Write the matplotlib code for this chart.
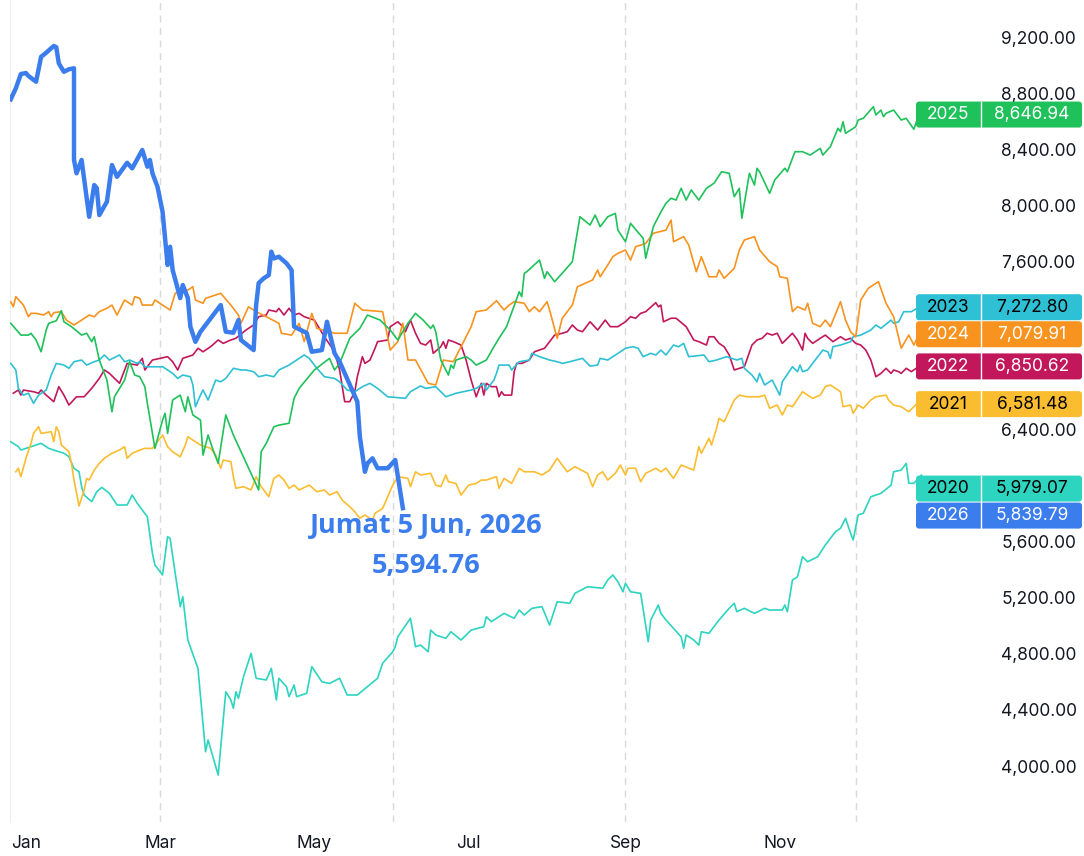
import matplotlib
matplotlib.use("Agg")
import matplotlib.pyplot as plt
from matplotlib.patches import FancyBboxPatch
from matplotlib.transforms import IdentityTransform
from matplotlib.ticker import FuncFormatter

plt.rcParams['font.family'] = ['Inter', 'DejaVu Sans']

# IHSG per tahun: hari ke-n dalam tahun dan nilai penutupan
days20 = [0,3,4,6,8,12,15,19,21,23,25,27,28,29,32,34,36,39,42,46,48,50,54,56,57,60,62,63,65,67,
          68,70,74,77,78,82,85,87,88,89,90,92,95,97,101,103,105,106,109,110,112,113,117,119,123,126,130,133,137,141,
          145,147,151,152,153,158,160,162,165,166,168,172,174,178,182,187,188,190,195,199,201,203,206,210,213,216,221,223,228,234,
          236,238,240,242,243,245,249,252,253,256,257,259,265,266,267,270,272,273,276,278,280,284,286,287,290,294,298,300,305,306,
          307,309,311,313,315,319,322,326,328,330,332,333,335,337,340,344,348,349,352,354,355,357,360,361]
vals20 = [6313,6278,6254,6266,6278,6302,6266,6242,6231,6206,6124,6099,5993,5933,5886,5957,5988,5945,5862,5862,
          5933,5874,5778,5517,5434,5363,5636,5624,5375,5137,5208,4899,4697,4102,4186,3936,4530,4471,4412,4530,
          4483,4637,4804,4626,4614,4697,4471,4626,4566,4495,4578,4495,4519,4709,4601,4589,4626,4507,4507,4566,
          4626,4733,4815,4851,4922,5054,4851,4863,4815,4970,4935,4911,4958,4899,4970,4994,5065,5030,5089,5054,
          5113,5077,5125,5137,5006,5172,5161,5232,5279,5268,5327,5363,5315,5243,5303,5243,5232,4887,5042,5149,
          5089,5042,4922,4840,4935,4899,4863,4958,4947,4994,5042,5125,5161,5101,5125,5089,5125,5113,5113,5149,
          5101,5327,5350,5493,5457,5493,5577,5671,5696,5767,5660,5612,5791,5803,5921,5945,6004,6099,6111,6159,
          6017,6017,6076,5979.07]

days21 = [2,3,4,6,8,9,11,12,16,17,18,19,20,23,24,25,27,29,30,31,33,35,37,40,43,45,46,48,51,53,
          56,60,62,64,67,69,70,73,75,79,81,83,84,87,88,89,92,95,97,99,102,104,106,108,110,112,114,118,121,124,
          126,129,131,134,136,138,140,143,144,147,149,151,153,157,158,160,162,166,168,170,172,173,176,178,181,184,186,188,192,193,
          195,198,201,203,207,210,213,216,220,223,228,230,232,234,236,239,241,243,244,247,249,251,255,257,259,262,265,270,272,273,
          276,277,279,280,282,286,288,291,296,298,300,303,305,307,309,313,315,317,320,322,324,328,329,332,333,335,337,340,342,346,
          347,349,352,355,358]
vals21 = [6099,6124,6064,6195,6302,6373,6420,6373,6385,6313,6420,6385,6290,6242,6159,6040,5855,5969,6052,6040,
          6111,6159,6195,6231,6254,6278,6195,6231,6254,6266,6266,6361,6278,6242,6206,6290,6349,6313,6290,6266,
          6218,6124,6183,6171,6064,5981,5993,5969,6064,5993,5921,6052,6076,6040,5981,6004,5969,6004,5957,5969,
          5933,5957,5897,5850,5814,5767,5791,5755,5803,5838,5921,6004,6064,6052,5993,6099,6076,6088,6004,5993,
          6076,6028,6016,5933,6004,6016,6040,6040,6064,5981,6052,6016,6124,6099,6099,6076,6111,6195,6099,6135,
          6088,5993,6076,6099,6040,6088,6147,6076,6124,6124,6028,6088,6124,6099,6124,6052,6147,6111,6278,6231,
          6338,6290,6409,6480,6456,6611,6646,6634,6634,6646,6552,6575,6504,6575,6563,6670,6646,6623,6646,6706,
          6718,6670,6563,6575,6516,6575,6552,6611,6634,6646,6611,6575,6563,6527,6581.48]

days22 = [1,3,4,5,9,11,12,14,17,19,21,23,26,29,32,35,37,39,41,43,46,50,52,53,56,59,62,64,66,68,
          72,74,76,79,82,84,87,89,93,96,98,101,102,105,106,108,110,112,114,116,120,124,128,130,132,134,136,137,139,140,
          142,144,145,149,150,153,155,156,158,160,162,164,166,167,170,171,172,173,175,178,180,182,184,186,187,188,190,192,193,194,
          195,198,199,200,202,205,207,211,213,215,218,220,222,224,226,229,232,235,237,240,243,245,247,249,251,255,256,257,258,261,
          263,267,270,272,275,276,278,280,282,284,286,290,293,295,297,299,301,303,305,307,309,311,313,314,315,317,320,322,325,328,
          330,332,334,336,338,340,342,343,344,346,348,349,351,352,354,356,359]
vals22 = [6659,6682,6646,6682,6670,6659,6682,6646,6599,6706,6646,6575,6634,6634,6694,6765,6825,6801,6765,6730,
          6872,6860,6908,6825,6896,6908,6920,6884,6825,6908,6932,6980,6955,6991,7039,7015,7039,7051,7110,7146,
          7205,7217,7253,7241,7265,7217,7265,7217,7229,7205,7181,7062,6955,6825,6599,6599,6670,6777,6920,6872,
          6896,6980,7027,7039,7134,7169,7134,7098,7181,7087,7015,7003,7039,6944,6991,7027,6980,7039,7027,7003,
          6896,6753,6634,6730,6646,6730,6706,6706,6634,6670,6646,6646,6813,6872,6872,6896,6955,6980,7027,7074,
          7087,7098,7146,7110,7098,7169,7110,7181,7134,7134,7169,7205,7194,7229,7241,7305,7276,7288,7169,7194,
          7194,7134,7039,7027,7003,7062,7062,7015,6991,6932,6825,6848,7003,7039,7051,7087,7074,7087,7015,7051,
          7087,7039,6967,7087,7051,7015,7051,7074,7027,7062,7039,7051,7015,7003,6967,6896,6777,6789,6801,6837,
          6801,6825,6813,6801,6837,6813,6850.62]

days23 = [0,2,3,5,7,9,11,14,16,18,21,23,25,28,30,33,35,37,39,43,45,47,50,51,53,56,60,62,64,66,
          68,71,72,73,75,76,78,81,83,85,88,91,93,96,98,101,104,106,110,116,118,121,124,128,130,133,136,139,142,145,
          149,156,158,162,164,168,172,176,182,184,187,188,191,192,193,197,198,201,205,206,209,211,213,216,218,221,226,229,232,233,
          236,238,241,243,246,248,250,253,255,257,259,262,264,266,268,274,276,279,283,287,289,290,293,295,296,298,301,304,305,309,
          311,312,313,315,319,321,323,324,325,328,332,333,336,340,342,344,348,349,351,353,356,359]
vals23 = [6872,6825,6694,6646,6659,6587,6646,6682,6789,6872,6860,6837,6884,6896,6860,6884,6896,6932,6896,6932,
          6884,6896,6872,6884,6848,6848,6848,6825,6801,6765,6789,6777,6718,6563,6646,6682,6611,6753,6741,6765,
          6837,6825,6825,6813,6777,6789,6777,6825,6860,6932,6908,6837,6777,6765,6741,6682,6670,6706,6730,6694,
          6634,6623,6670,6711,6694,6706,6634,6659,6682,6694,6730,6682,6753,6801,6860,6860,6825,6884,6896,6944,
          6920,6908,6896,6884,6872,6884,6908,6853,6860,6908,6896,6920,6955,6980,6991,6980,6920,6944,6932,6967,
          6932,7003,6991,7015,6920,6932,6884,6896,6920,6896,6908,6837,6789,6741,6801,6718,6753,6646,6741,6848,
          6813,6860,6813,6825,6920,6967,6955,6908,6991,7003,7027,7062,7074,7110,7146,7122,7181,7158,7169,7241,
          7241,7272.80]

days24 = [0,1,2,5,7,8,10,13,15,16,17,20,22,25,27,31,33,35,38,40,42,45,48,49,51,52,56,57,60,63,
          65,68,70,72,73,76,77,83,87,90,91,94,97,101,106,107,111,114,116,119,121,128,133,136,139,147,150,153,155,157,
          160,165,168,171,175,178,182,184,188,192,195,197,199,203,205,207,209,212,213,216,218,220,222,224,230,232,233,236,238,240,
          243,245,247,251,254,259,261,262,266,268,271,273,276,279,280,282,286,288,290,294,296,300,303,304,307,309,311,314,315,317,
          320,322,324,328,330,332,334,336,339,343,346,349,352,355,357,359]
vals24 = [7312,7276,7348,7288,7205,7229,7229,7217,7241,7205,7234,7241,7181,7146,7169,7217,7205,7241,7265,7288,
          7217,7324,7288,7348,7336,7288,7288,7324,7288,7253,7372,7395,7395,7419,7324,7301,7336,7372,7288,7217,
          7158,7276,7241,7205,7158,7087,7074,7158,7027,7229,7122,7087,7087,7301,7253,7241,6967,7027,7158,6896,
          6896,6730,6718,6896,6884,6991,7134,7241,7253,7319,7253,7288,7312,7301,7241,7276,7241,7312,7253,7051,
          7194,7241,7288,7419,7467,7538,7490,7574,7633,7657,7681,7609,7704,7728,7800,7823,7895,7740,7776,7716,
          7526,7633,7490,7490,7538,7479,7550,7681,7752,7776,7681,7597,7562,7490,7479,7241,7276,7253,7301,7158,
          7134,7181,7134,7312,7181,7098,7062,7324,7408,7455,7301,7205,6980,7074,7003,7079.91]

days25 = [0,4,7,8,10,12,14,15,18,20,21,24,28,30,32,33,35,38,40,41,45,47,49,51,53,54,57,60,61,62,
          64,67,69,70,72,75,76,78,80,82,85,88,98,99,101,104,106,110,112,114,120,126,128,130,134,138,141,146,150,153,
          157,160,163,166,167,168,170,173,174,175,176,180,182,184,188,191,193,196,201,202,203,204,209,211,212,215,218,222,225,229,
          231,233,236,239,240,243,245,250,251,254,257,259,261,263,265,267,269,272,275,278,281,284,286,288,289,292,294,295,296,300,
          302,306,307,310,313,316,320,321,324,327,328,329,330,334,335,337,341,342,344,345,346,349,352,354,357,359]
vals25 = [7158,7074,7074,7087,7039,6955,7110,7158,7176,7248,7169,7134,7074,7087,7027,7062,6896,6753,6527,6634,
          6753,6884,6789,6777,6706,6587,6266,6468,6516,6373,6611,6646,6527,6634,6504,6468,6218,6361,6254,6159,
          6504,6361,5969,6242,6302,6420,6432,6445,6623,6694,6825,6908,6825,6872,7051,7122,7217,7181,7110,7039,
          7158,7229,7181,7122,7146,7098,6896,6789,6860,6837,6896,6920,6896,6860,6896,6991,7051,7134,7383,7348,
          7515,7526,7609,7479,7526,7455,7515,7597,7918,7859,7930,7847,7918,7942,7823,7740,7871,7764,7622,7847,
          7952,8014,8050,8037,8121,8037,8109,8037,8121,8157,8239,8228,8061,8121,7907,8228,8144,8264,8239,8085,
          8180,8264,8239,8382,8382,8358,8406,8358,8418,8549,8525,8596,8513,8560,8608,8620,8703,8644,8679,8632,
          8656,8679,8608,8620,8542,8646.94]

days26 = [0,2,4,6,7,10,12,14,17,18,19,21,23,25,25,26,28,31,33,34,35,38,40,42,46,48,52,54,55,56,
          58,60,62,63,64,67,68,70,71,73,75,83,85,88,90,91,96,97,98,100,102,103,104,106,109,111,112,117,119,123,
          125,128,130,137,138,140,141,143,145,149,152,155]
vals26 = [8756,8834,8936,8943,8922,8881,9059,9088,9136,9127,9012,8952,8970,8977,8323,8228,8323,7918,8144,8123,
          7930,8025,8287,8203,8303,8263,8394,8275,8323,8228,8132,7954,7574,7704,7538,7338,7431,7338,7134,7026,
          7098,7288,7098,7091,7181,7039,6967,7288,7445,7479,7502,7669,7621,7633,7586,7538,7134,7089,6955,6967,
          7169,6944,6884,6599,6349,6099,6159,6195,6124,6124,6183,5839.79]

hover_date = "Jumat 5 Jun, 2026"
hover_value = 5594.76

month_names = ["Jan", "Mar", "May", "Jul", "Sep", "Nov"]
month_days = [0, 59, 120, 181, 243, 304]
quarter_lines = [59, 151, 243, 334]
yticks = list(range(4000, 9201, 400))

series = [
    ("2020", days20, vals20, "#2dd4bf", "black"),
    ("2021", days21, vals21, "#fbbd30", "black"),
    ("2022", days22, vals22, "#c2185b", "white"),
    ("2023", days23, vals23, "#2ec0d4", "black"),
    ("2024", days24, vals24, "#f7931e", "white"),
    ("2025", days25, vals25, "#1fc15b", "white"),
    ("2026", days26, vals26, "#3b7ded", "white"),
]

W, H = 1084, 856
fig = plt.figure(figsize=(W / 100, H / 100), dpi=100)
ax = fig.add_axes([10 / W, 1 - 822 / H, 980 / W, 822 / H])
ax.set_xlim(-0.3, 387.1)
ax.set_ylim(3601, 9464)

for d in quarter_lines:
    ax.axvline(d, color="#d9d9d9", lw=1, ls=(0, (5, 4)), zorder=1)

for name, d, v, c, tc in series:
    if name == "2026":
        ax.plot(d, v, color=c, lw=3.2, zorder=4, solid_joinstyle="round")
    else:
        ax.plot(d, v, color=c, lw=1.2, zorder=3)

for s in ["top", "right", "bottom"]:
    ax.spines[s].set_visible(False)
ax.spines["left"].set_color("#ededed")

ax.set_xticks(month_days)
ax.set_xticklabels(month_names)
ax.tick_params(axis="x", length=0, pad=9, labelsize=12.5, labelcolor="#131722")
ax.get_xticklabels()[0].set_horizontalalignment("left")

# hover label at the end of the 2026 line
for txt, dy in [(hover_date, -13), (f"{hover_value:,.2f}", -42)]:
    ax.annotate(txt, xy=(days26[-1], vals26[-1]), xytext=(17, dy), textcoords="offset points",
                ha="center", va="center", fontsize=19.5, fontweight="bold", color="#3b7ded",
                family=["Open Sans", "DejaVu Sans"], zorder=6)

# last value badges on the right
fig.canvas.draw()
badges = []
for name, d, v, c, tc in series:
    py = ax.transData.transform((0, v[-1]))[1]
    badges.append([py, name, v[-1], c, tc])
badges.sort(key=lambda b: -b[0])
bh = 26
for i in range(1, len(badges)):
    if badges[i - 1][0] - badges[i][0] < bh + 1:
        badges[i][0] = badges[i - 1][0] - (bh + 1)

# y labels that sit under a badge are hidden
shown = []
for t in yticks:
    ty = ax.transData.transform((0, t))[1]
    if all(abs(ty - b[0]) > bh / 2 + 6 for b in badges):
        shown.append(t)
ax.set_yticks(shown)
ax.yaxis.set_major_formatter(FuncFormatter(lambda x, p: f"{x:,.2f}"))
ax.yaxis.tick_right()
ax.tick_params(axis="y", length=0, pad=8, labelsize=12.5, labelcolor="#131722")

ident = IdentityTransform()
for py, name, last, c, tc in badges:
    box = FancyBboxPatch((916, py - bh / 2), 166, bh, boxstyle="round,pad=0,rounding_size=3",
                         transform=ident, facecolor=c, edgecolor="none", zorder=10)
    fig.patches.append(box)
    fig.add_artist(plt.Line2D([981, 981], [py - bh / 2, py + bh / 2], transform=ident,
                              color="white", lw=1, zorder=11))
    fig.text(948, py, name, transform=ident, ha="center", va="center",
             fontsize=12.5, color=tc, zorder=12)
    fig.text(1032, py, f"{last:,.2f}", transform=ident, ha="center", va="center",
             fontsize=12.5, color=tc, zorder=12)

fig.savefig("out.png", dpi=100)
